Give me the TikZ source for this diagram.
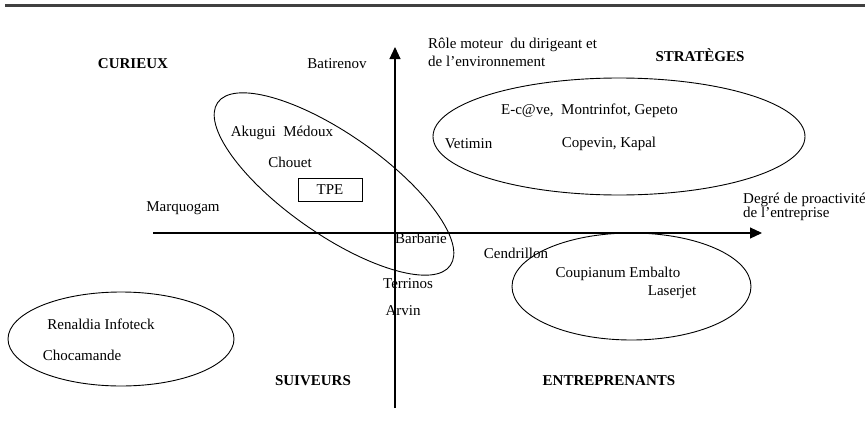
\documentclass[tikz,border=0pt]{standalone}
\usepackage{fontspec}
\setmainfont{Liberation Serif}
\usetikzlibrary{arrows.meta,shapes.geometric}
\begin{document}
\begin{tikzpicture}[x=1pt,y=1pt,
  lbl/.style={inner sep=0pt,font=\fontsize{15}{16.5}\selectfont},
  quad/.style={inner sep=0pt,font=\fontsize{15}{16.5}\selectfont\bfseries},
  grp/.style={draw,line width=0.9pt},
  axis/.style={line width=1.1pt,-{Triangle[length=12pt,width=11pt]}}]
\useasboundingbox (0,0) rectangle (865,-431);
% top rule
\draw[line width=3pt,black!75] (5,-5) -- (865,-5);
% axes
\coordinate (xs) at (153,-233);
\coordinate (xe) at (762,-233);
\coordinate (ys) at (395,-408);
\coordinate (ye) at (395,-47);
\draw[axis] (xs) -- (xe);
\draw[axis] (ys) -- (ye);
% ellipses
\node[grp,ellipse,minimum width=372pt,minimum height=117pt,inner sep=0pt] (strat) at (619,-136.5) {};
\node[grp,ellipse,minimum width=239pt,minimum height=107pt,inner sep=0pt] (entr) at (631.5,-286.5) {};
\node[grp,ellipse,minimum width=226pt,minimum height=94pt,inner sep=0pt] (suiv) at (121,-339) {};
\draw[grp] (334,-184) ellipse[x radius=142,y radius=50,rotate=-35];
\coordinate (cur) at (334,-184);
% axis labels
\node[lbl,anchor=west,align=left,font=\fontsize{15}{18}\selectfont] (ylab) at (428,-52) {Rôle moteur\ \ du dirigeant et\\de l’environnement};
\node[lbl,anchor=west,align=left] (xlab) at (743,-207) {Degré de proactivité\\[-2pt]de l’entreprise};
% quadrant names
\node[quad] (q1) at (133,-64) {CURIEUX};
\node[quad] (q2) at (700,-55) {STRATÈGES};
\node[quad] (q3) at (313,-381) {SUIVEURS};
\node[quad] (q4) at (609,-381) {ENTREPRENANTS};
% firms
\node[lbl] (bat) at (337,-64) {Batirenov};
\node[lbl] (aku) at (282,-133) {Akugui\ \ Médoux};
\node[lbl] (cho) at (290,-162) {Chouet};
\node[draw,line width=0.8pt,minimum width=64pt,minimum height=23pt,inner sep=0pt,font=\fontsize{15}{16.5}\selectfont] (tpe) at (330,-189.5) {TPE};
\node[lbl] (mar) at (183,-208) {Marquogam};
\node[lbl] (bar) at (421,-238) {Barbarie};
\node[lbl] (ter) at (408,-284) {Terrinos};
\node[lbl] (arv) at (403,-311) {Arvin};
\node[lbl] (ecave) at (589.5,-111) {E-c@ve,\ \ Montrinfot, Gepeto};
\node[lbl] (vet) at (468.5,-144) {Vetimin};
\node[lbl] (cop) at (609,-144) {Copevin, Kapal};
\node[lbl] (cen) at (516,-253) {Cendrillon};
\node[lbl] (cou) at (618,-274) {Coupianum Embalto};
\node[lbl] (las) at (672,-292) {Laserjet};
\node[lbl] (ren) at (101,-324) {Renaldia Infoteck};
\node[lbl] (chm) at (82,-355) {Chocamande};
\end{tikzpicture}
\end{document}
